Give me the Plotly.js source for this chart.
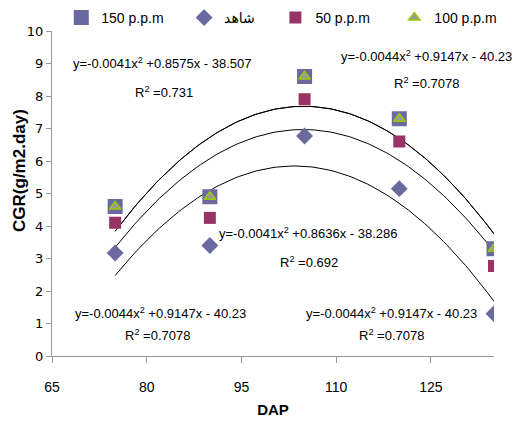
<!DOCTYPE html>
<html><head><meta charset="utf-8">
<script src="https://cdn.plot.ly/plotly-3.0.1.min.js"></script>
<style>html,body{margin:0;padding:0;background:#fff}</style>
</head><body>
<div id="chart" style="width:517px;height:425px"></div>
<script>
// Data
const dap = [75, 90, 105, 120, 135];
const ppm150 = [4.6, 4.9, 8.6, 7.3, 3.3];
const control = [3.17, 3.4, 6.77, 5.15, 1.3];
const ppm50 = [4.1, 4.25, 7.9, 6.6, 2.77];
const ppm100 = [4.6, 4.9, 8.6, 7.3, 3.3];
const seriesNames = ['150 p.p.m', 'شاهد', '50 p.p.m', '100 p.p.m'];
const xTicks = [65, 80, 95, 110, 125];
const equations = [
  'y=-0.0041x<sup>2</sup> +0.8575x - 38.507', 'R<sup>2</sup> =0.731',
  'y=-0.0044x<sup>2</sup> +0.9147x - 40.23', 'R<sup>2</sup> =0.7078',
  'y=-0.0041x<sup>2</sup> +0.8636x - 38.286', 'R<sup>2</sup> =0.692',
  'y=-0.0044x<sup>2</sup> +0.9147x - 40.23', 'R<sup>2</sup> =0.7078',
  'y=-0.0044x<sup>2</sup> +0.9147x - 40.23', 'R<sup>2</sup> =0.7078'
];

// least squares quadratic fit of a series
function quadFit(xs, ys) {
  let S = [0,0,0,0,0], T = [0,0,0];
  for (let i = 0; i < xs.length; i++) {
    let p = 1;
    for (let k = 0; k < 5; k++) { S[k] += p; if (k < 3) T[k] += p * ys[i]; p *= xs[i]; }
  }
  const A = [[S[0],S[1],S[2],T[0]],[S[1],S[2],S[3],T[1]],[S[2],S[3],S[4],T[2]]];
  for (let c = 0; c < 3; c++) {
    for (let r = c + 1; r < 3; r++) {
      const f = A[r][c] / A[c][c];
      for (let k = c; k < 4; k++) A[r][k] -= f * A[c][k];
    }
  }
  const sol = [0,0,0];
  for (let r = 2; r >= 0; r--) {
    let s = A[r][3];
    for (let k = r + 1; k < 3; k++) s -= A[r][k] * sol[k];
    sol[r] = s / A[r][r];
  }
  return sol;
}
function trend(ys) {
  const c = quadFit(dap, ys);
  const xs = [], yv = [];
  const x0 = dap[0], x1 = dap[dap.length - 1];
  for (let i = 0; i <= 120; i++) {
    const xv = x0 + (x1 - x0) * i / 120;
    xs.push(xv); yv.push(c[0] + c[1] * xv + c[2] * xv * xv);
  }
  return {x: xs, y: yv, mode: 'lines', line: {color: '#000', width: 1}, showlegend: false, hoverinfo: 'skip'};
}

const nb = n => '\u00a0'.repeat(n);
const traces = [
  trend(ppm150), trend(ppm100), trend(ppm50), trend(control),
  {x: dap, y: ppm150, name: seriesNames[0] + nb(4), mode: 'markers',
   marker: {symbol: 'square', size: 15, color: '#6a6aa0'}},
  {x: dap, y: control, name: seriesNames[1] + nb(4), mode: 'markers',
   marker: {symbol: 'diamond', size: 13, color: '#6a6aa0'}},
  {x: dap, y: ppm50, name: seriesNames[2] + nb(5), mode: 'markers',
   marker: {symbol: 'square', size: 12, color: '#993366'}},
  {x: dap, y: ppm100, name: seriesNames[3], mode: 'markers',
   marker: {symbol: 'triangle-up', size: 10, color: '#999999', line: {color: '#99cc00', width: 1.5}}}
];

const eqPos = [
  [0.2511, 0.9015], [0.2534, 0.8123],
  [0.8462, 0.923], [0.8462, 0.84],
  [0.5792, 0.3785], [0.5814, 0.2892],
  [0.2466, 0.1323], [0.2376, 0.0646],
  [0.7692, 0.1323], [0.7692, 0.0646]
];
const baseFam = '"Liberation Sans", Arial, sans-serif';
const eqFont = {family: baseFam, size: 13, color: '#000'};
const annotations = equations.map((t, i) => ({
  text: t, xref: 'paper', yref: 'paper', x: eqPos[i][0], y: eqPos[i][1],
  xanchor: 'center', yanchor: 'middle', showarrow: false, font: eqFont
}));
annotations.push({
  text: '<b>CGR(g/m2.day)</b>', xref: 'paper', yref: 'paper', x: -0.072, y: 0.57,
  xanchor: 'center', yanchor: 'middle', textangle: -90, showarrow: false,
  font: {family: baseFam, size: 17, color: '#000'}
});

const layout = {
  width: 517, height: 425,
  margin: {l: 52, r: 23, t: 31, b: 69, autoexpand: false},
  paper_bgcolor: '#fff', plot_bgcolor: '#fff',
  showlegend: true,
  legend: {orientation: 'h', x: 0.021, y: 1.04, xanchor: 'left', yanchor: 'middle',
    font: {family: '"Liberation Sans", "DejaVu Sans", sans-serif', size: 14, color: '#000'},
    bgcolor: 'rgba(0,0,0,0)', itemwidth: 30},
  xaxis: {range: [65, 135], tickmode: 'array', tickvals: xTicks, ticktext: xTicks.map(String),
    ticks: 'outside', ticklen: 6, tickcolor: '#999', showline: true, linecolor: '#999', linewidth: 1,
    showgrid: false, zeroline: false, ticklabelstandoff: 12,
    tickfont: {family: baseFam, size: 14, color: '#000'},
    title: {text: '<b>DAP</b>', standoff: 10,
      font: {family: baseFam, size: 15, color: '#000'}}},
  yaxis: {range: [0, 10], dtick: 1, tick0: 0,
    ticks: 'outside', ticklen: 5, tickcolor: '#999', showline: true, linecolor: '#999', linewidth: 1,
    showgrid: false, zeroline: false,
    tickfont: {family: '"DejaVu Sans", Verdana, sans-serif', size: 13, color: '#000'}},
  annotations: annotations
};
Plotly.newPlot('chart', traces, layout, {displayModeBar: false, staticPlot: true});
</script>
</body></html>
